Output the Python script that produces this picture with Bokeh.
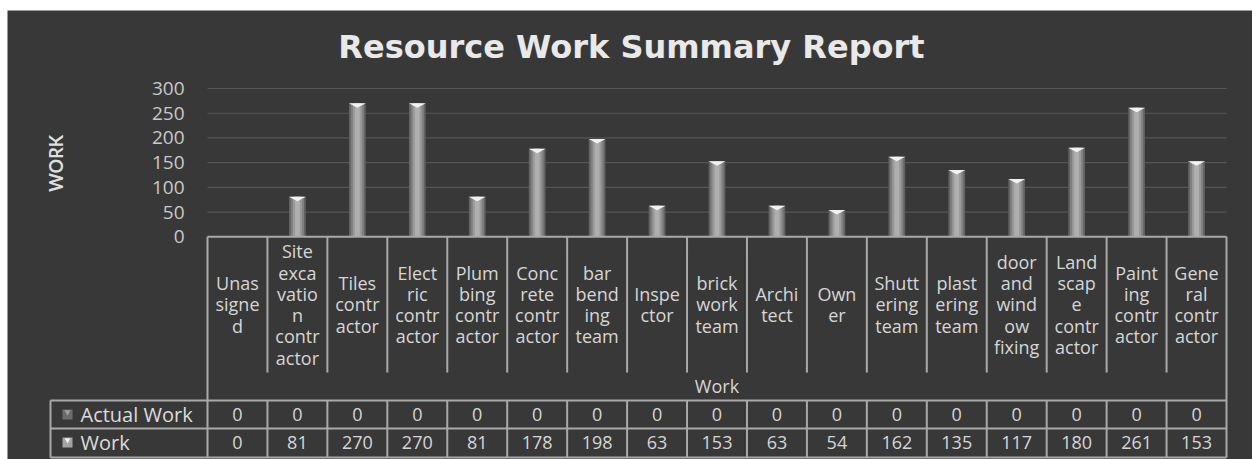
import math
from bokeh.plotting import figure
from bokeh.models import Range1d
from bokeh.core.properties import value
from bokeh.embed import file_html
from bokeh.resources import INLINE

# ---------------- data ----------------
title_text = "Resource Work Summary Report"
category_labels = [
    "Unas\nsigne\nd",
    "Site\nexca\nvatio\nn\ncontr\nactor",
    "Tiles\ncontr\nactor",
    "Elect\nric\ncontr\nactor",
    "Plum\nbing\ncontr\nactor",
    "Conc\nrete\ncontr\nactor",
    "bar\nbend\ning\nteam",
    "Inspe\nctor",
    "brick\nwork\nteam",
    "Archi\ntect",
    "Own\ner",
    "Shutt\nering\nteam",
    "plast\nering\nteam",
    "door\nand\nwind\now\nfixing",
    "Land\nscap\ne\ncontr\nactor",
    "Paint\ning\ncontr\nactor",
    "Gene\nral\ncontr\nactor",
]
work = [0, 81, 270, 270, 81, 178, 198, 63, 153, 63, 54, 162, 135, 117, 180, 261, 153]
actual_work = [0, 0, 0, 0, 0, 0, 0, 0, 0, 0, 0, 0, 0, 0, 0, 0, 0]
series_names = ["Actual Work", "Work"]
y_ticks = [0, 50, 100, 150, 200, 250, 300]
y_tick_labels = ["0", "50", "100", "150", "200", "250", "300"]
y_axis_title = "WORK"
x_axis_title = "Work"

# ---------------- layout (pixels) ----------------
W, H = 1252, 459
X0_PX, X17_PX = 207, 1226
COLW = (X17_PX - X0_PX) / 17.0
Y0_PX = 236.3
PXU = 0.4943  # pixels per value unit
FRAME_L, FRAME_R, FRAME_T, FRAME_B = 7, 1252, 10, 459

def px2x(px):
    return (px - X0_PX) / COLW

def px2y(py):
    return (Y0_PX - py) / PXU

BG = "#383838"
LINE = "#a9a9a9"
TXT = "#d6d6d6"
FONT = "Open Sans"

p = figure(
    width=W, height=H,
    x_range=Range1d(px2x(FRAME_L), px2x(FRAME_R)),
    y_range=Range1d(px2y(FRAME_B), px2y(FRAME_T)),
    min_border_left=FRAME_L, min_border_right=W - FRAME_R,
    min_border_top=FRAME_T, min_border_bottom=H - FRAME_B,
    x_axis_location=None, y_axis_location=None,
    toolbar_location=None, output_backend="svg",
)
p.background_fill_color = BG
p.border_fill_color = "white"
p.outline_line_color = None
p.xgrid.visible = False
p.ygrid.visible = False

n = len(work)
xc = [i + 0.5 for i in range(n)]

# title
p.text(x=[px2x(631)], y=[px2y(46)], text=[title_text], text_align="center",
       text_baseline="middle", text_font=value("DejaVu Sans"), text_font_style="bold",
       text_font_size="32px", text_color="#e9e9e9")

# grid lines
gt = y_ticks[1:]
p.segment(x0=[0] * len(gt), x1=[n] * len(gt), y0=gt, y1=gt, line_color="#555555", line_width=1.2)

# bars (cylinder-like shading)
bw = 0.28
for w_, col in [(bw, "#626262"), (0.22, "#808080"), (0.15, "#9a9a9a"), (0.08, "#afafaf")]:
    p.vbar(x=xc, top=work, bottom=0, width=w_, fill_color=col, line_color=None)
cap_h = 4.5 / PXU
cap_x = [[x - bw / 2, x + bw / 2, x] for x, v in zip(xc, work) if v > 0]
cap_y = [[v, v, v - cap_h] for v in work if v > 0]
p.patches(xs=cap_x, ys=cap_y, fill_color="#f2f2f2", line_color=None)

# y tick labels
p.text(x=[px2x(184)] * len(y_ticks), y=y_ticks, text=y_tick_labels,
       text_align="right", text_baseline="middle", text_font=value(FONT),
       text_font_size="19px", text_color="#c9c9c9")

# y axis title
p.text(x=[px2x(55)], y=[px2y(163)], text=[y_axis_title], angle=math.pi / 2,
       text_align="center", text_baseline="middle", text_font=value("Lato"),
       text_font_style="bold", text_font_size="18px", text_color="#dedede")

# table lines
y_hdr_bot = px2y(372)
y_r1 = px2y(400)
y_r2 = px2y(428)
y_r3 = px2y(457)
x_leg = px2x(50)
lx, ly = [], []
lx.append([0, n]); ly.append([0, 0])
for i in range(1, n):
    lx.append([i, i]); ly.append([0, y_hdr_bot])
    lx.append([i, i]); ly.append([y_r1, y_r3])
for xb in (0, n):
    lx.append([xb, xb]); ly.append([0, y_r3])
lx.append([x_leg, x_leg]); ly.append([y_r1, y_r3])
for yy in (y_r1, y_r2, y_r3):
    lx.append([x_leg, n]); ly.append([yy, yy])
p.multi_line(xs=lx, ys=ly, line_color=LINE, line_width=2)

# category header labels
p.text(x=xc, y=[px2y(304)] * n, text=category_labels, text_align="center",
       text_baseline="middle", text_font=value(FONT), text_font_size="18px",
       text_line_height=0.885, text_color=TXT)
p.text(x=[n / 2], y=[px2y(385)], text=[x_axis_title], text_align="center",
       text_baseline="middle", text_font=value(FONT), text_font_size="18px",
       text_color=TXT)

# row labels + legend keys
row_y = [px2y(414), px2y(442)]
p.text(x=[px2x(80)] * 2, y=row_y, text=series_names, text_align="left",
       text_baseline="middle", text_font=value(FONT), text_font_size="20px",
       text_color="#dcdcdc")
p.scatter(x=[px2x(67)] * 2, y=row_y, marker="square", size=10,
          fill_color=["#6c6c6c", "#a4a4a4"], line_color=None)
p.scatter(x=[px2x(67)] * 2, y=[v + 2.5 / PXU for v in row_y], marker="inverted_triangle", size=6,
          fill_color=["#a0a0a0", "#f0f0f0"], line_color=None)

# table values
p.text(x=xc, y=[row_y[0]] * n, text=[str(v) for v in actual_work], text_align="center",
       text_baseline="middle", text_font=value(FONT), text_font_size="18px", text_color=TXT)
p.text(x=xc, y=[row_y[1]] * n, text=[str(v) for v in work], text_align="center",
       text_baseline="middle", text_font=value(FONT), text_font_size="18px", text_color=TXT)

open("out.html", "w").write(file_html(p, INLINE))
